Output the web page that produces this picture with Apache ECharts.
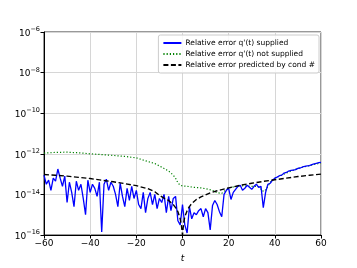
<!DOCTYPE html>
<html>
<head>
<meta charset="utf-8">
<script src="https://cdn.jsdelivr.net/npm/echarts@6/dist/echarts.min.js"></script>
<style>html,body{margin:0;padding:0;background:#fff;}#c{width:357px;height:268px;}</style>
</head>
<body>
<div id="c"></div>
<script>
// x ticks
const xTicks = [-60, -40, -20, 0, 20, 40, 60];
// blue: relative error q'(t) supplied (log10 of value), t = -60..60 step 1
const blueT = [];
for (let t = -60; t <= 60; t++) blueT.push(t);
const blueLog = [
 -13.05,-13.5,-13.3,-13.8,-13.2,-13.35,-12.75,-13.2,-13.6,-13.1,
 -14.4,-13.4,-13.9,-14.6,-13.35,-13.8,-13.5,-14.2,-15.0,-13.3,
 -13.9,-13.5,-13.7,-14.1,-13.4,-15.85,-13.5,-13.25,-13.8,-13.4,
 -13.6,-14.0,-14.6,-13.45,-14.1,-14.6,-13.7,-14.3,-13.6,-14.2,
 -13.8,-14.5,-14.7,-13.9,-14.9,-14.2,-13.9,-14.5,-14.0,-14.7,
 -14.2,-14.4,-14.0,-14.9,-14.1,-14.8,-14.2,-14.1,-15.3,-15.5,
 -14.5,
 -15.5,-15.9,-14.6,-15.2,-14.9,-15.0,-14.8,-14.7,-15.1,-14.7,
 -14.9,-15.75,-14.55,-14.3,-14.5,-14.85,-15.1,-14.0,-13.8,-13.7,
 -14.25,-13.9,-13.75,-13.6,-13.55,-13.8,-13.7,-13.55,-13.65,-13.75,
 -13.6,-13.5,-13.65,-13.6,-14.65,-13.9,-13.5,-13.45,-13.3,-13.2,
 -13.15,-13.08,-13.05,-12.95,-12.92,-12.85,-12.82,-12.8,-12.78,-12.72,
 -12.7,-12.65,-12.62,-12.6,-12.58,-12.53,-12.5,-12.47,-12.44,-12.42
];
// green: relative error q'(t) not supplied
const greenT = [-60,-55,-50,-45,-40,-35,-30,-25,-20,-15,-12,-10,-8,-6,-4,-3,-2,-1,0,2,5,8,10,13,15,17,18,20,25,30,33,34.5,35.5,36.5,38,40,45,50,55,60];
const greenLog = [-11.97,-11.93,-11.92,-11.95,-12.0,-12.04,-12.08,-12.13,-12.2,-12.38,-12.48,-12.6,-12.72,-12.85,-13.05,-13.2,-13.43,-13.55,-13.58,-13.6,-13.65,-13.68,-13.72,-13.8,-13.92,-13.95,-13.85,-13.68,-13.57,-13.6,-13.62,-13.82,-13.85,-13.7,-13.4,-13.2,-12.95,-12.72,-12.58,-12.45];
// black dashed: predicted by cond #
const condT = [-60,-55,-50,-45,-40,-35,-30,-25,-20,-15,-12,-10,-8,-6,-5,-4,-3,-2,-1,-0.5,0,0.5,1,2,3,4,5,6,8,10,12,15,20,25,30,35,40,45,50,55,60];
const condLog = [-13.02,-13.06,-13.1,-13.16,-13.22,-13.3,-13.38,-13.47,-13.57,-13.72,-13.87,-14.05,-14.18,-14.3,-14.4,-14.5,-14.65,-14.85,-15.2,-15.5,-16.0,-15.4,-15.1,-14.8,-14.6,-14.45,-14.35,-14.25,-14.12,-14.02,-13.92,-13.82,-13.68,-13.55,-13.45,-13.36,-13.28,-13.2,-13.12,-13.06,-13.0];

const toPairs = (ts, ls) => ts.map((t, i) => [t, Math.pow(10, ls[i])]);
const font = 'DejaVu Sans';
const chart = echarts.init(document.getElementById('c'), null, {renderer: 'canvas'});
chart.setOption({
  animation: false,
  backgroundColor: '#fff',
  textStyle: {fontFamily: font},
  grid: {left: 44, right: 36, top: 32, bottom: 30, show: true, borderColor: '#333', borderWidth: 1},
  legend: {
    orient: 'vertical', right: 38, top: 35,
    itemWidth: 18, itemHeight: 8, itemGap: 3,
    padding: [4, 4, 4, 4],
    backgroundColor: 'rgba(255,255,255,0.85)',
    borderColor: '#cccccc', borderWidth: 1, borderRadius: 2,
    itemStyle: {opacity: 0},
    textStyle: {fontFamily: font, fontSize: 7.5, color: '#000', padding: [0,0,0,-1]},
    data: ["Relative error q'(t) supplied", "Relative error q'(t) not supplied", "Relative error predicted by cond #"]
  },
  xAxis: {
    type: 'value', min: -60, max: 60, interval: 20,
    name: 't', nameLocation: 'middle', nameGap: 19,
    nameTextStyle: {fontFamily: font, fontSize: 9, fontStyle: 'italic', color: '#000'},
    axisLine: {onZero: false, lineStyle: {color: '#000', width: 1}},
    axisTick: {show: true, length: 3.5, lineStyle: {color: '#000'}},
    axisLabel: {fontFamily: font, fontSize: 9, color: '#000', margin: 4,
      formatter: v => (v < 0 ? '\u2212' + Math.abs(v) : String(v))},
    splitLine: {show: true, lineStyle: {color: '#d6d6d6', width: 1}}
  },
  yAxis: {
    type: 'log', logBase: 100, min: 1e-16, max: 1e-6,
    axisLine: {show: true, onZero: false, lineStyle: {color: '#000', width: 1}},
    axisTick: {show: true, length: 3.5, lineStyle: {color: '#000'}},
    axisLabel: {
      fontFamily: font, color: '#000', margin: 4,
      formatter: v => '{b|10}{s|\u2212' + Math.abs(Math.round(Math.log10(v))) + '}',
      rich: {
        b: {fontFamily: font, fontSize: 9, color: '#000', verticalAlign: 'bottom', lineHeight: 12},
        s: {fontFamily: font, fontSize: 6.5, color: '#000', verticalAlign: 'top', lineHeight: 12, padding: [0, 0, 4, 0]}
      }
    },
    splitLine: {show: true, lineStyle: {color: '#d6d6d6', width: 1}}
  },
  series: [
    {name: "Relative error q'(t) supplied", type: 'line', data: toPairs(blueT, blueLog),
     showSymbol: false, symbol: 'none', color: '#0000ff', lineStyle: {color: '#0000ff', width: 1.3}, z: 3},
    {name: "Relative error q'(t) not supplied", type: 'line', data: toPairs(greenT, greenLog),
     showSymbol: false, symbol: 'none', color: '#008000', lineStyle: {color: '#008000', width: 1.2, type: [1.2, 2]}, z: 2},
    {name: "Relative error predicted by cond #", type: 'line', data: toPairs(condT, condLog),
     showSymbol: false, symbol: 'none', color: '#000', lineStyle: {color: '#000', width: 1.4, type: [5, 2.5]}, z: 4}
  ]
});
</script>
</body>
</html>
